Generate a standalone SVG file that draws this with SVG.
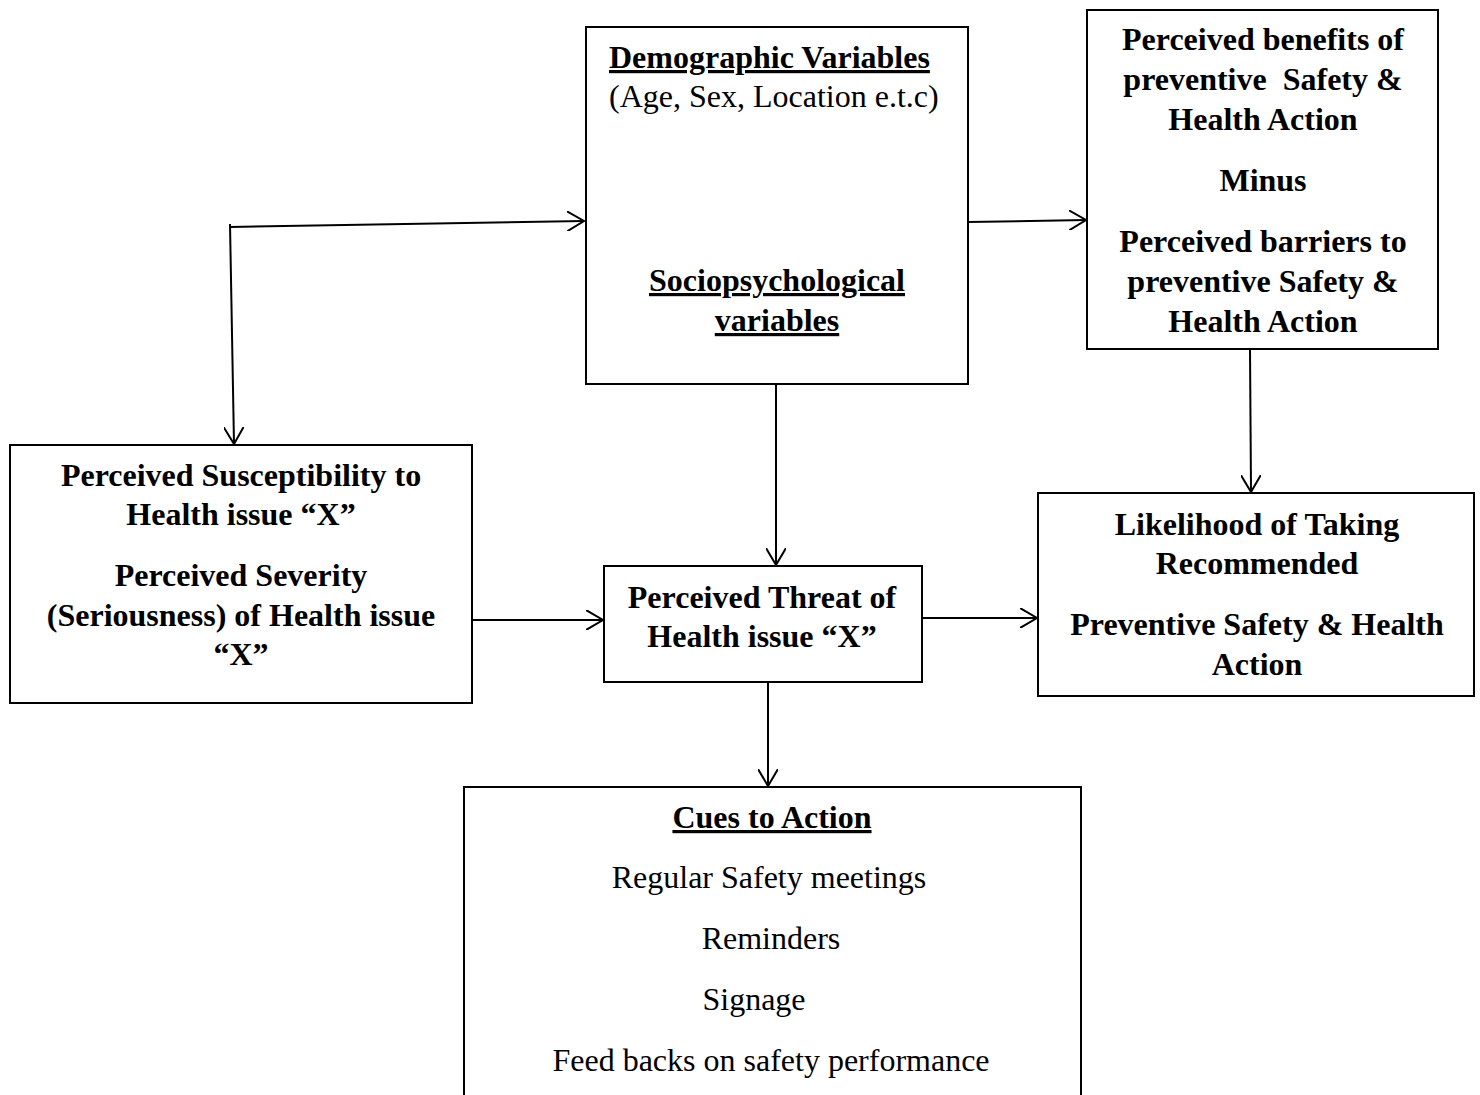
<svg xmlns="http://www.w3.org/2000/svg" width="1480" height="1095" viewBox="0 0 1480 1095">
  <style>
    .box { fill: #fff; stroke: #000; stroke-width: 2; }
    .b { font-family: "Liberation Serif", "Times New Roman", serif; font-size: 32px; font-weight: bold; fill: #000; text-anchor: middle; }
    .r { font-family: "Liberation Serif", "Times New Roman", serif; font-size: 32px; fill: #000; text-anchor: middle; }
    .u { text-decoration: underline; }
    .conn { fill: none; stroke: #000; stroke-width: 2; }
  </style>
  <defs>
    <marker id="arrow" markerWidth="20" markerHeight="20" refX="17" refY="10" orient="auto" markerUnits="userSpaceOnUse">
      <path d="M0,0 L17,10 L0,20" fill="none" stroke="#000" stroke-width="2"/>
    </marker>
  </defs>

  <rect width="1480" height="1095" fill="#fff"/>

  <g id="demographic">
    <rect class="box" x="586" y="27" width="382" height="357"/>
    <text class="b u" x="609" y="68" style="text-anchor:start">Demographic Variables</text>
    <text class="r" x="609" y="107" style="text-anchor:start">(Age, Sex, Location e.t.c)</text>
    <text class="b u" x="777" y="291">Sociopsychological</text>
    <text class="b u" x="777" y="331">variables</text>
  </g>

  <g id="benefits">
    <rect class="box" x="1087" y="10" width="351" height="339"/>
    <text class="b" x="1263" y="50">Perceived benefits of</text>
    <text class="b" x="1263" y="90" xml:space="preserve">preventive  Safety &amp;</text>
    <text class="b" x="1263" y="130">Health Action</text>
    <text class="b" x="1263" y="191">Minus</text>
    <text class="b" x="1263" y="252">Perceived barriers to</text>
    <text class="b" x="1263" y="292">preventive Safety &amp;</text>
    <text class="b" x="1263" y="332">Health Action</text>
  </g>

  <g id="susceptibility">
    <rect class="box" x="10" y="445" width="462" height="258"/>
    <text class="b" x="241" y="486">Perceived Susceptibility to</text>
    <text class="b" x="241" y="525">Health issue “X”</text>
    <text class="b" x="241" y="586">Perceived Severity</text>
    <text class="b" x="241" y="626">(Seriousness) of Health issue</text>
    <text class="b" x="241" y="665">“X”</text>
  </g>

  <g id="threat">
    <rect class="box" x="604" y="566" width="318" height="116"/>
    <text class="b" x="762" y="608">Perceived Threat of</text>
    <text class="b" x="762" y="647">Health issue “X”</text>
  </g>

  <g id="likelihood">
    <rect class="box" x="1038" y="493" width="436" height="203"/>
    <text class="b" x="1257" y="535">Likelihood of Taking</text>
    <text class="b" x="1257" y="574">Recommended</text>
    <text class="b" x="1257" y="635">Preventive Safety &amp; Health</text>
    <text class="b" x="1257" y="675">Action</text>
  </g>

  <g id="cues">
    <rect class="box" x="464" y="787" width="617" height="320"/>
    <text class="b u" x="772" y="828">Cues to Action</text>
    <text class="r" x="769" y="888">Regular Safety meetings</text>
    <text class="r" x="771" y="949">Reminders</text>
    <text class="r" x="754" y="1010">Signage</text>
    <text class="r" x="771" y="1071">Feed backs on safety performance</text>
  </g>

  <g id="connectors">
    <path class="conn" d="M230,227 L584,221" marker-end="url(#arrow)"/>
    <path class="conn" d="M230,224 L234,444" marker-end="url(#arrow)"/>
    <path class="conn" d="M968,222 L1086,220" marker-end="url(#arrow)"/>
    <path class="conn" d="M472,620 L603,620" marker-end="url(#arrow)"/>
    <path class="conn" d="M922,618 L1037,618" marker-end="url(#arrow)"/>
    <path class="conn" d="M776,384 L776,565" marker-end="url(#arrow)"/>
    <path class="conn" d="M768,682 L768,786" marker-end="url(#arrow)"/>
    <path class="conn" d="M1250,349 L1251,492" marker-end="url(#arrow)"/>
  </g>
</svg>
